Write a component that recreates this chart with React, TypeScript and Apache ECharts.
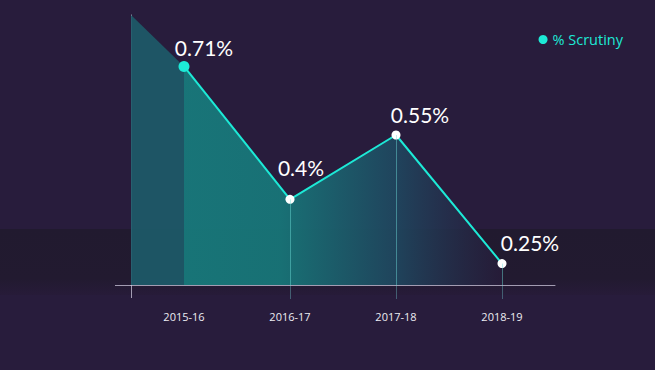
import React, { useEffect, useRef } from "react";
import * as echarts from "echarts";

const categories = ["2015-16", "2016-17", "2017-18", "2018-19"];
const scrutiny = [0.71, 0.4, 0.55, 0.25];
const leadIn: [number, number][] = [
  [0, 0.83],
  [0.5, 0.71],
];
const labelOffsets: [number, number][] = [
  [20, 2],
  [11, -12],
  [24, -1],
  [28, -1],
];

export default function App() {
  const ref = useRef<HTMLDivElement>(null);
  useEffect(() => {
    document.body.style.margin = "0";
    const chart = echarts.init(ref.current!, undefined, { renderer: "svg" });
    const axisColor = "rgba(205,200,220,0.75)";
    chart.setOption({
      animation: false,
      backgroundColor: "#281c3c",
      graphic: [
        {
          type: "rect",
          z: -10,
          silent: true,
          shape: { x: 0, y: 229, width: 655, height: 66 },
          style: {
            fill: {
              type: "linear",
              x: 0,
              y: 0,
              x2: 0,
              y2: 1,
              colorStops: [
                { offset: 0, color: "#211a2f" },
                { offset: 0.75, color: "#221a30" },
                { offset: 1, color: "#271b39" },
              ],
            },
          },
        },
      ],
      legend: {
        right: 27,
        top: 27,
        icon: "circle",
        itemWidth: 9,
        itemHeight: 9,
        itemGap: 4,
        data: ["% Scrutiny"],
        textStyle: { color: "#1de9d6", fontSize: 14.5, fontFamily: "Open Sans" },
      },
      grid: { left: 131, right: 100, top: 15, bottom: 85 },
      xAxis: [
        {
          type: "category",
          data: categories,
          boundaryGap: true,
          axisLine: { lineStyle: { color: axisColor, width: 1 } },
          axisTick: {
            show: true,
            alignWithLabel: true,
            length: 14,
            interval: (i: number) => i > 0,
            lineStyle: { color: "rgba(120,220,220,0.35)" },
          },
          axisLabel: {
            color: "#ececf2",
            fontSize: 11,
            fontFamily: "Open Sans",
            margin: 26,
          },
          splitLine: { show: false },
        },
        {
          type: "value",
          min: 0,
          max: 4,
          position: "bottom",
          axisLine: { show: false },
          axisLabel: { show: false },
          splitLine: { show: false },
          axisTick: {
            show: true,
            length: 13,
            customValues: [0],
            lineStyle: { color: axisColor },
          },
        },
      ],
      yAxis: {
        type: "value",
        min: 0.2,
        max: 0.83,
        axisLine: { show: true, lineStyle: { color: axisColor } },
        axisTick: {
          show: true,
          length: 16,
          customValues: [0.2],
          lineStyle: { color: axisColor },
        },
        axisLabel: { show: false },
        splitLine: { show: false },
      },
      series: [
        {
          name: "lead",
          type: "line",
          xAxisIndex: 1,
          data: leadIn,
          symbol: "none",
          lineStyle: { width: 0 },
          areaStyle: { color: "#1d5a69", opacity: 0.92, origin: "start" },
          z: 1,
          silent: true,
        },
        {
          name: "% Scrutiny",
          type: "line",
          data: scrutiny.map((v, i) => ({
            value: v,
            symbolSize: i === 0 ? 11 : 9,
            itemStyle: { color: i === 0 ? "#1de9d6" : "#ffffff" },
            label: { offset: labelOffsets[i] },
          })),
          symbol: "circle",
          color: "#1de9d6",
          lineStyle: { color: "#1de9d6", width: 2 },
          areaStyle: {
            origin: "start",
            opacity: 0.92,
            color: {
              type: "linear",
              x: 0,
              y: 0,
              x2: 1,
              y2: 0,
              colorStops: [
                { offset: 0, color: "rgba(23,124,125,1)" },
                { offset: 0.3, color: "rgba(23,120,122,1)" },
                { offset: 0.66, color: "rgba(31,72,96,1)" },
                { offset: 1, color: "rgba(40,28,60,0.7)" },
              ],
            },
          },
          label: {
            show: true,
            position: "top",
            color: "#ffffff",
            fontSize: 21,
            fontFamily: "Lato",
            formatter: (p: any) => p.value + "%",
          },
          markLine: {
            silent: true,
            symbol: "none",
            label: { show: false },
            lineStyle: { color: "rgba(110,225,220,0.45)", width: 1, type: "solid" },
            data: scrutiny.slice(1).map((v, i) => [
              { coord: [i + 1, v] },
              { coord: [i + 1, 0.2] },
            ]),
          },
          z: 3,
        },
      ],
    });
    return () => chart.dispose();
  }, []);
  return <div ref={ref} style={{ width: 655, height: 370, background: "#281c3c" }} />;
}
